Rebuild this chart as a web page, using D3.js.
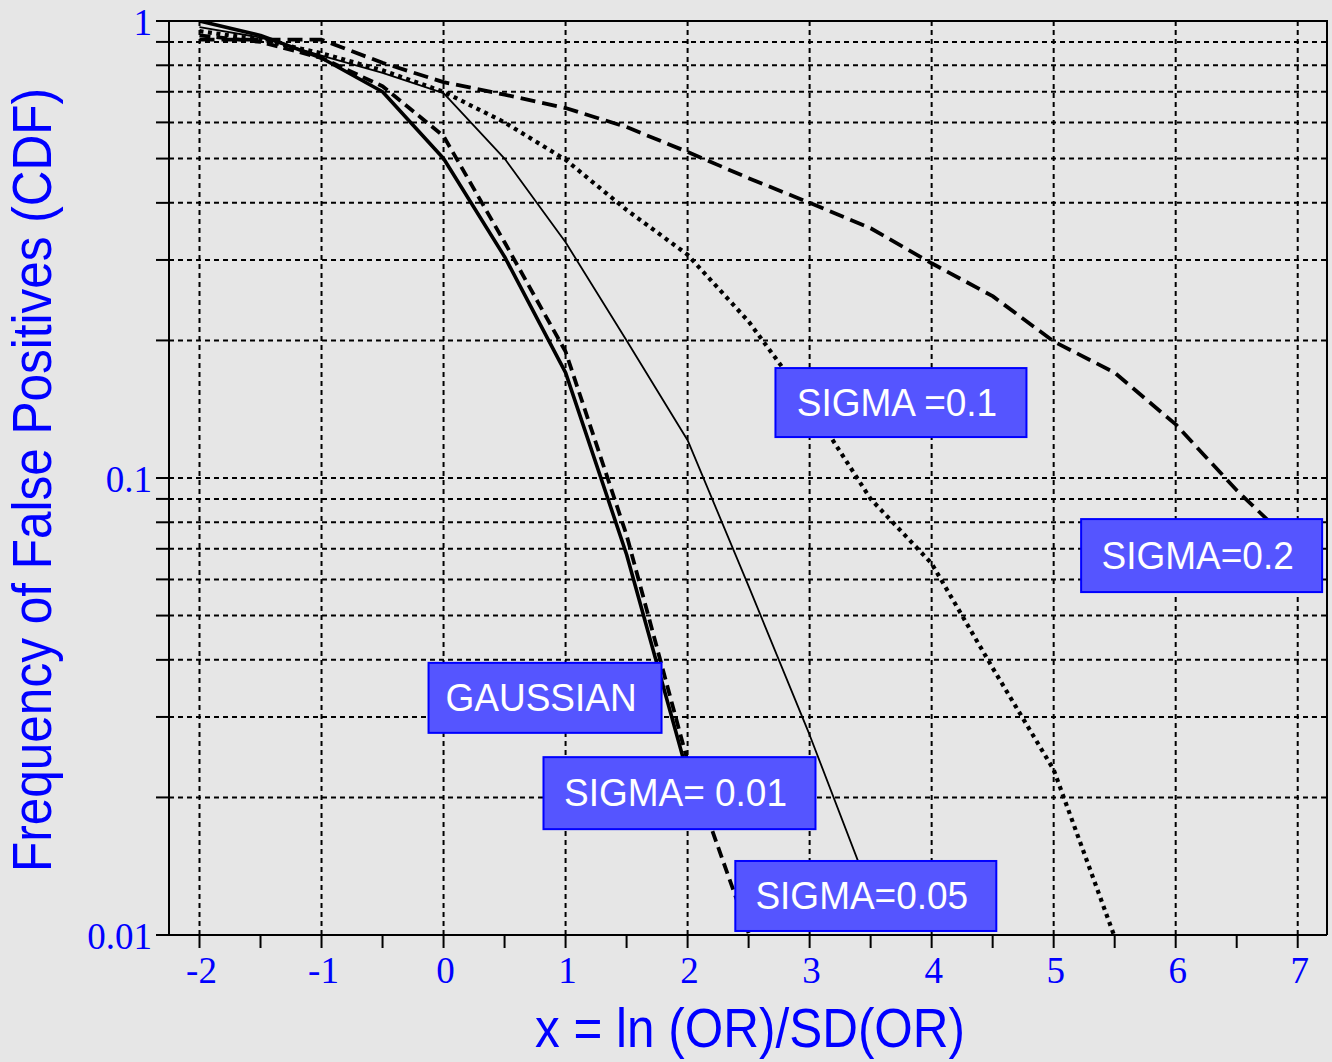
<!DOCTYPE html>
<html>
<head>
<meta charset="utf-8">
<script src="https://cdn.jsdelivr.net/npm/d3@7"></script>
<style>
  body { margin: 0; background: #e6e6e6; }
  svg { display: block; }
</style>
</head>
<body>
<div id="chart"></div>
<script>
// x positions shared by all series (series may stop early)
const xs = [-2, -1.5, -1, -0.5, 0, 0.5, 1, 1.5, 2, 2.5, 3, 3.5, 4, 4.5, 5, 5.5, 6, 6.5, 7];

const gaussian = [1.0, 0.93, 0.83, 0.70, 0.50, 0.305, 0.17, 0.068, 0.0225];
const sigma001 = [0.93, 0.90, 0.83, 0.72, 0.56, 0.328, 0.189, 0.075, 0.024, 0.0101];
const sigma005 = [0.97, 0.92, 0.84, 0.77, 0.695, 0.50, 0.328, 0.20, 0.121, 0.058, 0.0274, 0.0123];
const sigma01 = [0.95, 0.91, 0.85, 0.78, 0.70, 0.60, 0.497, 0.386, 0.308, 0.22, 0.145, 0.090, 0.065, 0.0384, 0.023, 0.0099];
const sigma02 = [0.91, 0.91, 0.91, 0.81, 0.735, 0.69, 0.645, 0.586, 0.517, 0.453, 0.40, 0.352, 0.295, 0.25, 0.199, 0.17, 0.131, 0.094, 0.07];

const xTicks = [-2, -1, 0, 1, 2, 3, 4, 5, 6, 7];
const yLabels = [1, 0.1, 0.01];
const yLabelText = ["1", "0.1", "0.01"];

const labels = ["SIGMA =0.1", "SIGMA=0.2", "GAUSSIAN", "SIGMA= 0.01", "SIGMA=0.05"];

window.onload = init;

function init()
{
    const width = 1332;
    const height = 1062;
    const left = 169, right = 1327, top = 21, bottom = 935;

    const svg = d3.select('#chart').append('svg').attr('width', width).attr('height', height);

    const x = d3.scaleLinear().domain([-2.25, 7.24]).range([left, right]);
    const y = d3.scaleLog().domain([0.01, 1]).range([bottom, top]);

    // minor values of the log axis
    let yMinor = [];
    [0.01, 0.1].forEach(d => { for (let k = 1; k < 10; k++) yMinor.push(+(d * k).toPrecision(3)); });
    yMinor.push(1);
    const xMinor = d3.range(-2, 7.01, 0.5);

    // grid
    const grid = svg.append('g').attr('stroke', '#000').attr('stroke-width', 2).attr('stroke-dasharray', '5,4');
    grid.selectAll('.hg').data(yMinor.filter(d => d > 0.01 && d < 1)).enter().append('line')
        .attr('x1', left).attr('x2', right).attr('y1', d => y(d)).attr('y2', d => y(d));
    grid.selectAll('.vg').data(xTicks).enter().append('line')
        .attr('x1', d => x(d)).attr('x2', d => x(d)).attr('y1', top).attr('y2', bottom);

    // curves
    svg.append('clipPath').attr('id', 'plotclip').append('rect')
        .attr('x', left).attr('y', top).attr('width', right - left).attr('height', bottom - top);

    const line = d3.line().x(d => x(d[0])).y(d => y(d[1]));
    const series = [
        { vals: gaussian, w: 3.6, dash: null },
        { vals: sigma001, w: 3.8, dash: '11,6' },
        { vals: sigma005, w: 1.8, dash: null },
        { vals: sigma01, w: 4.2, dash: '4,4.5' },
        { vals: sigma02, w: 3.8, dash: '15,7' }
    ];
    const lines = svg.append('g').attr('clip-path', 'url(#plotclip)');
    series.forEach(s => {
        lines.append('path')
            .datum(s.vals.map((v, i) => [xs[i], v]))
            .attr('d', line)
            .attr('fill', 'none')
            .attr('stroke', '#000')
            .attr('stroke-width', s.w)
            .attr('stroke-linejoin', 'round')
            .attr('stroke-dasharray', s.dash);
    });

    // label boxes, anchored at data coordinates (top-left corner)
    const boxes = [
        { at: [2.72, 0.174], w: 251, h: 69 },
        { at: [5.225, 0.0813], w: 241, h: 73 },
        { at: [-0.123, 0.0394], w: 233, h: 70 },
        { at: [0.819, 0.0245], w: 272, h: 72 },
        { at: [2.391, 0.01452], w: 261, h: 70 }
    ];
    const bg = svg.append('g');
    boxes.forEach((b, i) => {
        const bx = x(b.at[0]), by = y(b.at[1]);
        bg.append('rect').attr('x', bx).attr('y', by).attr('width', b.w).attr('height', b.h)
            .attr('fill', '#5555ff').attr('stroke', '#0000ff').attr('stroke-width', 2);
        bg.append('text')
            .attr('transform', `translate(${bx + b.w / 2 - 4},${by + b.h / 2 + 13}) scale(1,1.06)`)
            .attr('text-anchor', 'middle')
            .attr('font-family', 'Liberation Sans, Arial, sans-serif')
            .attr('font-size', 37)
            .attr('fill', '#fff')
            .text(labels[i]);
    });

    // frame
    const ax = svg.append('g').attr('stroke', '#000').attr('stroke-width', 2);
    ax.append('line').attr('x1', 156).attr('x2', right).attr('y1', bottom).attr('y2', bottom);
    ax.append('line').attr('x1', left).attr('x2', left).attr('y1', top).attr('y2', bottom);
    ax.append('line').attr('x1', 156).attr('x2', right + 1).attr('y1', top).attr('y2', top);
    ax.append('line').attr('x1', right).attr('x2', right).attr('y1', top).attr('y2', bottom);

    // ticks
    ax.selectAll('.yt').data(yMinor).enter().append('line')
        .attr('x1', 156).attr('x2', left).attr('y1', d => y(d)).attr('y2', d => y(d));
    ax.selectAll('.xt').data(xMinor).enter().append('line')
        .attr('x1', d => x(d)).attr('x2', d => x(d)).attr('y1', bottom).attr('y2', bottom + 13);

    // tick labels
    svg.append('g').selectAll('text').data(xTicks).enter().append('text')
        .attr('x', d => x(d) + 2).attr('y', 983)
        .attr('text-anchor', 'middle')
        .attr('font-family', 'Liberation Serif, Times New Roman, serif')
        .attr('font-size', 37).attr('fill', '#0000ff')
        .text(d => d);
    svg.append('g').selectAll('text').data(yLabels).enter().append('text')
        .attr('x', 152).attr('y', d => y(d) + 14)
        .attr('text-anchor', 'end')
        .attr('font-family', 'Liberation Serif, Times New Roman, serif')
        .attr('font-size', 37).attr('fill', '#0000ff')
        .text((d, i) => yLabelText[i]);

    // axis titles
    svg.append('text')
        .attr('transform', 'translate(750,1047) scale(1,1.1)')
        .attr('text-anchor', 'middle')
        .attr('font-family', 'Liberation Sans, Arial, sans-serif')
        .attr('font-size', 50).attr('fill', '#0000ff')
        .attr('textLength', 430).attr('lengthAdjust', 'spacingAndGlyphs')
        .text('x = ln (OR)/SD(OR)');
    svg.append('text')
        .attr('transform', 'translate(51,480) rotate(-90) scale(1,1.1)')
        .attr('text-anchor', 'middle')
        .attr('font-family', 'Liberation Sans, Arial, sans-serif')
        .attr('font-size', 50).attr('fill', '#0000ff')
        .attr('textLength', 784).attr('lengthAdjust', 'spacingAndGlyphs')
        .text('Frequency of False Positives (CDF)');
}
</script>
</body>
</html>
